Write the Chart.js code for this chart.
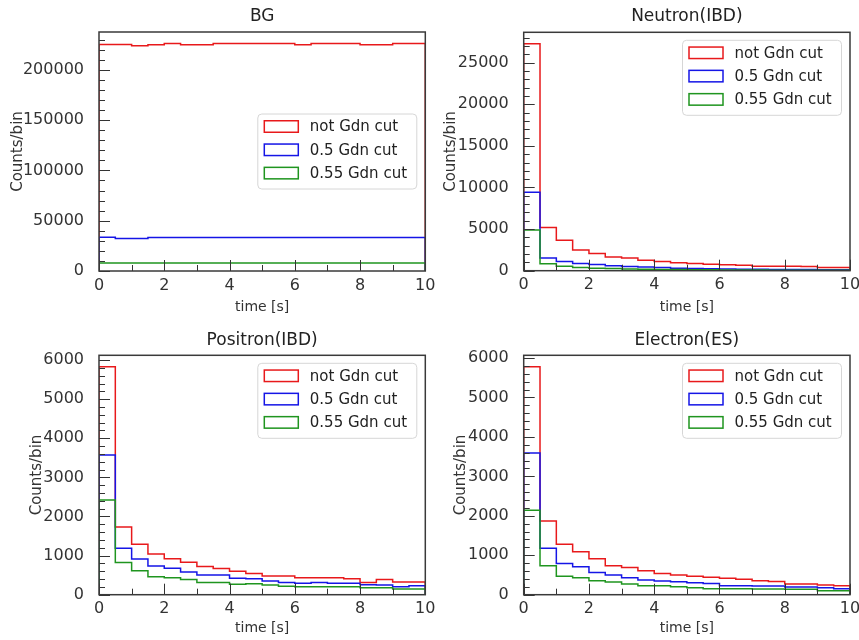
<!DOCTYPE html>
<html>
<head>
<meta charset="utf-8">
<script src="https://cdn.jsdelivr.net/npm/chart.js@4"></script>
<style>
  html, body { margin: 0; padding: 0; background: #fff; overflow: hidden; }
  #wrap { position: relative; width: 859px; height: 640px; overflow: hidden; }
  #wrap canvas { position: absolute; }
</style>
</head>
<body>
<div id="wrap"></div>
<script>
// bin edges [s]
const binEdges = [0, 0.5, 1, 1.5, 2, 2.5, 3, 3.5, 4, 4.5, 5, 5.5, 6, 6.5, 7, 7.5, 8, 8.5, 9, 9.5, 10];
const seriesLabels = ['not Gdn cut', '0.5 Gdn cut', '0.55 Gdn cut'];
const panelTitles = ['BG', 'Neutron(IBD)', 'Positron(IBD)', 'Electron(ES)'];

// counts per bin
const bgNot   = [225300, 225300, 224000, 225000, 226300, 225000, 225000, 226300, 226300, 226300, 226300, 226300, 225000, 226300, 226300, 226300, 225000, 225000, 226300, 226300];
const bg05    = [33600, 32200, 32200, 33300, 33300, 33300, 33300, 33300, 33300, 33300, 33300, 33300, 33300, 33300, 33300, 33300, 33300, 33300, 33300, 33300];
const bg055   = [8000, 8000, 7900, 8000, 8000, 8000, 8000, 8000, 8000, 8000, 8000, 8000, 8000, 8000, 8000, 8000, 8000, 8000, 8000, 8000];

const neuNot  = [27280, 5180, 3650, 2500, 2060, 1640, 1530, 1250, 1100, 970, 880, 780, 700, 660, 540, 520, 520, 500, 370, 370];
const neu05   = [9420, 1520, 1100, 880, 740, 580, 500, 440, 380, 300, 260, 230, 200, 180, 160, 150, 140, 130, 120, 110];
const neu055  = [4880, 840, 520, 380, 300, 250, 210, 170, 150, 130, 110, 100, 90, 80, 70, 65, 60, 55, 50, 45];

const posNot  = [5830, 1730, 1290, 1040, 920, 830, 720, 670, 600, 545, 480, 480, 435, 435, 435, 410, 315, 390, 325, 325];
const pos05   = [3570, 1190, 910, 735, 675, 580, 505, 505, 420, 410, 350, 315, 290, 315, 290, 290, 255, 245, 205, 230];
const pos055  = [2420, 825, 615, 460, 435, 390, 315, 315, 265, 280, 245, 215, 205, 205, 205, 205, 180, 180, 145, 145];

const eleNot  = [5780, 1870, 1280, 1090, 910, 735, 690, 605, 540, 500, 470, 440, 420, 390, 355, 335, 270, 270, 245, 230];
const ele05   = [3590, 1180, 790, 710, 565, 500, 430, 370, 345, 330, 305, 285, 230, 230, 220, 220, 195, 195, 175, 150];
const ele055  = [2140, 735, 470, 430, 355, 320, 270, 230, 230, 200, 175, 150, 150, 150, 145, 145, 135, 135, 100, 100];

const lineColors = ['#e8191b', '#1515e6', '#1f951f'];
const FONT = '"DejaVu Sans", sans-serif';

// layout of the four panels (pixels)
const panels = [
    { title: panelTitles[0], series: [bgNot, bg05, bg055], left: 0, top: 0, yMajor: 50000, yMinor: 10000,
      axisW: 99, axisH: 49, tTop: 8, tBottom: 7, yTitlePad: 9, xTitlePad: 4.6, legendLoc: 'center' },
    { title: panelTitles[1], series: [neuNot, neu05, neu055], left: 430, top: 0, yMajor: 5000, yMinor: 1000,
      axisW: 93.7, axisH: 49.3, tTop: 8, tBottom: 7.3, yTitlePad: 12, xTitlePad: 4.1, legendLoc: 'upper' },
    { title: panelTitles[2], series: [posNot, pos05, pos055], left: 0, top: 320, yMajor: 1000, yMinor: 200,
      axisW: 99, axisH: 45.3, tTop: 12.3, tBottom: 6, yTitlePad: 28, xTitlePad: 3, legendLoc: 'upper' },
    { title: panelTitles[3], series: [eleNot, ele05, ele055], left: 430, top: 320, yMajor: 1000, yMinor: 200,
      axisW: 93.7, axisH: 45.3, tTop: 12.3, tBottom: 6, yTitlePad: 22.5, xTitlePad: 2.8, legendLoc: 'upper' }
];

// step outline like matplotlib histtype='step'
function stepPoints(values) {
    const pts = [{ x: binEdges[0], y: 0 }];
    values.forEach((v, i) => pts.push({ x: binEdges[i], y: v }));
    pts.push({ x: binEdges[binEdges.length - 1], y: values[values.length - 1] });
    pts.push({ x: binEdges[binEdges.length - 1], y: 0 });
    return pts;
}

// inward ticks, frame and legend
const histFrame = {
    id: 'histFrame',
    afterDatasetsDraw(chart, args, opts) {
        const ctx = chart.ctx;
        const a = chart.chartArea;
        const xs = chart.scales.x, ys = chart.scales.y;
        ctx.save();
        ctx.strokeStyle = '#333';
        ctx.lineWidth = 1;
        ctx.beginPath();
        const nY = Math.floor(ys.max / opts.yMinor + 1e-9);
        for (let i = 0; i <= nY; i++) {
            const v = i * opts.yMinor;
            const py = Math.round(ys.getPixelForValue(v)) + 0.5;
            const len = (v % opts.yMajor === 0) ? 11 : 6;
            ctx.moveTo(a.left, py);
            ctx.lineTo(a.left + len, py);
        }
        for (let i = 0; i <= 10; i++) {
            const px = Math.round(xs.getPixelForValue(i)) + 0.5;
            const len = (i % 2 === 0) ? 11 : 6;
            ctx.moveTo(px, a.bottom);
            ctx.lineTo(px, a.bottom - len);
        }
        ctx.stroke();
        ctx.strokeStyle = '#3a3a3a';
        ctx.lineWidth = 1.5;
        ctx.strokeRect(a.left, a.top, a.right - a.left, a.bottom - a.top);

        // legend
        const w = 159, h = 75;
        const lx = a.right - 8.5 - w;
        const ly = opts.legendLoc === 'center' ? (a.top + a.bottom) / 2 - h / 2 : a.top + 8;
        ctx.beginPath();
        if (ctx.roundRect) ctx.roundRect(lx, ly, w, h, 4); else ctx.rect(lx, ly, w, h);
        ctx.fillStyle = 'rgba(255,255,255,0.8)';
        ctx.fill();
        ctx.strokeStyle = '#d6d6d6';
        ctx.lineWidth = 1;
        ctx.stroke();
        ctx.font = '15px ' + FONT;
        ctx.textBaseline = 'middle';
        ctx.textAlign = 'left';
        chart.data.datasets.forEach((ds, i) => {
            const cy = ly + 12.5 + i * 23.3;
            ctx.strokeStyle = ds.borderColor;
            ctx.lineWidth = 1.5;
            ctx.strokeRect(lx + 6.5, cy - 5.75, 34, 11.5);
            ctx.fillStyle = '#222';
            ctx.fillText(ds.label, lx + 52, cy + 1);
        });
        ctx.restore();
    }
};

const wrap = document.getElementById('wrap');

panels.forEach(p => {
    const canvas = document.createElement('canvas');
    canvas.width = 440;
    canvas.height = 320;
    canvas.style.left = p.left + 'px';
    canvas.style.top = p.top + 'px';
    canvas.style.width = '440px';
    canvas.style.height = '320px';
    wrap.appendChild(canvas);

    const yMax = Math.max(...p.series.flat()) * 1.05;

    new Chart(canvas, {
        type: 'line',
        data: {
            datasets: p.series.map((vals, i) => ({
                label: seriesLabels[i],
                data: stepPoints(vals),
                borderColor: lineColors[i],
                borderWidth: 1.5,
                pointRadius: 0,
                fill: false,
                stepped: true,
                order: 3 - i
            }))
        },
        options: {
            responsive: false,
            devicePixelRatio: 1,
            animation: false,
            events: [],
            layout: { padding: { left: 0, right: 440 - (p.axisW + 326.3), top: 0, bottom: 0 } },
            plugins: {
                legend: { display: false },
                tooltip: { enabled: false },
                title: {
                    display: true,
                    text: p.title,
                    fullSize: false,
                    color: '#222',
                    font: { family: FONT, size: 17, weight: 'normal', lineHeight: 1 },
                    padding: { top: p.tTop, bottom: p.tBottom }
                },
                histFrame: { yMajor: p.yMajor, yMinor: p.yMinor, legendLoc: p.legendLoc }
            },
            scales: {
                x: {
                    type: 'linear',
                    min: 0,
                    max: 10,
                    afterFit: s => { s.height = p.axisH; },
                    grid: { display: false },
                    border: { display: false },
                    ticks: {
                        stepSize: 2,
                        padding: -3,
                        maxRotation: 0,
                        color: '#333',
                        font: { family: FONT, size: 16 },
                        callback: v => String(v)
                    },
                    title: {
                        display: true,
                        text: 'time [s]',
                        color: '#333',
                        font: { family: FONT, size: 14 },
                        padding: { top: 0, bottom: p.xTitlePad }
                    }
                },
                y: {
                    type: 'linear',
                    min: 0,
                    max: yMax,
                    afterFit: s => { s.width = p.axisW; },
                    afterBuildTicks: s => {
                        const t = [];
                        for (let i = 0; i * p.yMajor <= yMax; i++) t.push({ value: i * p.yMajor });
                        s.ticks = t;
                    },
                    grid: { display: false },
                    border: { display: false },
                    ticks: {
                        padding: 7,
                        color: '#333',
                        font: { family: FONT, size: 16 },
                        callback: v => String(v)
                    },
                    title: {
                        display: true,
                        text: 'Counts/bin',
                        color: '#333',
                        font: { family: FONT, size: 15 },
                        padding: { top: p.yTitlePad, bottom: 0 }
                    }
                }
            }
        },
        plugins: [histFrame]
    });
});
</script>
</body>
</html>
